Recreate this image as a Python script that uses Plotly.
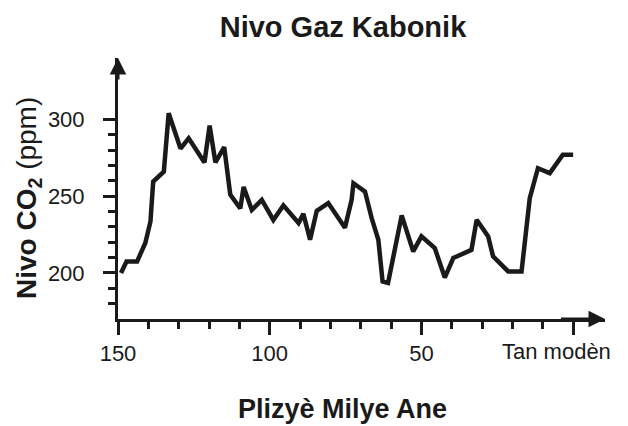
import plotly.graph_objects as go

# Data (thousands of years ago, CO2 ppm)
years = [149, 147.2, 143.7, 141, 139.3, 138.4, 134.9, 133.3, 129.4, 126.7,
         121.5, 119.8, 117.9, 115, 113, 109.7, 108.6, 105.9, 102.6, 98.8,
         95.5, 90.5, 88.9, 86.7, 84.5, 80.7, 75.2, 73, 72.4, 68.6,
         66.4, 64.2, 62.8, 61, 56.5, 52.7, 50, 45.6, 42.3, 39.5,
         33.5, 31.8, 28, 26.4, 21.4, 17, 14.3, 11.6, 7.7, 3.4, 0]
co2 = [200, 207.5, 207.5, 219.5, 233.5, 259.5, 266, 304, 281, 287.7,
       272, 296, 272, 282, 251, 242, 256, 241, 247.6, 234.5,
       244, 232.5, 238.5, 221.6, 240.5, 245.5, 229.5, 247.6, 258.4, 253,
       235.7, 221.6, 194.5, 193.5, 237.5, 214, 223.8, 216.2, 197, 209.7,
       215, 234.6, 223.8, 210.8, 201, 201, 248.7, 268.2, 265, 277, 277]

x_tickvals = [150, 100, 50, 0]
x_ticktext = ["150", "100", "50", ""]
x_minor = [140, 130, 120, 110, 90, 80, 70, 60, 40, 30, 20, 10]
y_tickvals = [200, 250, 300]
y_ticktext = ["200", "250", "300"]
y_minor = [180, 190, 210, 220, 230, 240, 260, 270, 280, 290]

title_text = "Nivo Gaz Kabonik"
x_title = "Plizyè Milye Ane"
y_title = "<b>Nivo CO<sub>2</sub></b> (ppm)"
modern_label = "Tan modèn"

INK = "#1a1a1a"
FONT = "Liberation Sans, Arial, Helvetica, sans-serif"

fig = go.Figure()
fig.add_trace(go.Scatter(
    x=years, y=co2, mode="lines",
    line=dict(color=INK, width=4.5),
    hoverinfo="skip", showlegend=False,
))

X_MIN_END = -10.5
Y_TOP = 340
fig.update_layout(
    width=628, height=426,
    margin=dict(l=117.5, r=22.8, t=57.7, b=106.5, pad=0),
    paper_bgcolor="white", plot_bgcolor="white",
    font=dict(family=FONT, color=INK),
    showlegend=False,
    title=dict(text="<b>" + title_text + "</b>", x=343 / 628, xanchor="center",
               y=1 - 27 / 426, yanchor="middle", xref="container", yref="container",
               font=dict(size=29, family=FONT, color=INK)),
    xaxis=dict(
        range=[150, X_MIN_END], showgrid=False, zeroline=False,
        showline=True, linecolor=INK, linewidth=3,
        tickmode="array", tickvals=x_tickvals, ticktext=x_ticktext,
        ticks="outside", ticklen=13, tickwidth=3, tickcolor=INK,
        tickfont=dict(size=22, family=FONT, color=INK),
        minor=dict(tickmode="array", tickvals=x_minor, ticks="outside",
                   ticklen=7, tickwidth=3, tickcolor=INK, showgrid=False),
    ),
    yaxis=dict(
        range=[170, Y_TOP], showgrid=False, zeroline=False,
        showline=True, linecolor=INK, linewidth=3,
        tickmode="array", tickvals=y_tickvals, ticktext=y_ticktext,
        ticks="outside", ticklen=12, tickwidth=3, tickcolor=INK,
        ticklabelstandoff=14,
        tickfont=dict(size=22, family=FONT, color=INK),
        minor=dict(tickmode="array", tickvals=y_minor, ticks="outside",
                   ticklen=7, tickwidth=3, tickcolor=INK, showgrid=False),
    ),
)

# axis arrowheads
fig.add_annotation(x=X_MIN_END, y=170, ax=X_MIN_END + 15, ay=170,
                   xref="x", yref="y", axref="x", ayref="y",
                   showarrow=True, arrowhead=2, arrowsize=1.1, arrowwidth=3,
                   arrowcolor=INK, text="")
fig.add_annotation(x=150, y=Y_TOP, ax=150, ay=Y_TOP - 15,
                   xref="x", yref="y", axref="x", ayref="y",
                   showarrow=True, arrowhead=2, arrowsize=1.1, arrowwidth=3,
                   arrowcolor=INK, text="")

# "Tan modèn" tick label
fig.add_annotation(x=0, y=0, xref="x", yref="paper", yanchor="top",
                   xanchor="center", xshift=-17, yshift=-18,
                   text=modern_label, showarrow=False,
                   font=dict(size=22, family=FONT, color=INK))

# axis titles
fig.add_annotation(x=(342.5 - 117.5) / 487.7, y=(319.5 - 410) / 261.8,
                   xref="paper", yref="paper", xanchor="center", yanchor="middle",
                   text="<b>" + x_title + "</b>", showarrow=False,
                   font=dict(size=27, family=FONT, color=INK))
fig.add_annotation(x=(28 - 117.5) / 487.7, y=(319.5 - 198.5) / 261.8,
                   xref="paper", yref="paper", xanchor="center", yanchor="middle",
                   text=y_title, textangle=-90, showarrow=False,
                   font=dict(size=28, family=FONT, color=INK))

fig.write_html("out.html", config={"displayModeBar": False},
               post_script="document.body.style.margin='0';document.body.style.padding='0';")
